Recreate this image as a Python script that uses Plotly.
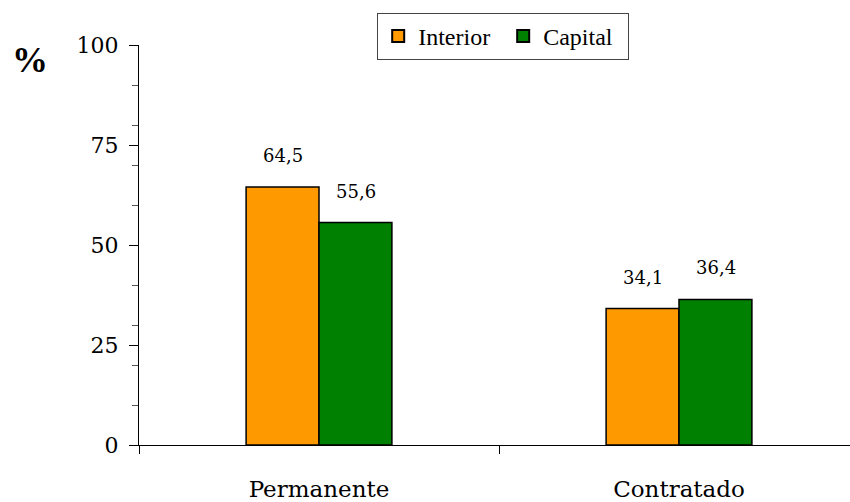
import plotly.graph_objects as go

categories = ["Permanente", "Contratado"]
interior = [64.5, 34.1]
capital = [55.6, 36.4]
interior_labels = ["64,5", "34,1"]
capital_labels = ["55,6", "36,4"]
y_ticks = [0, 25, 50, 75, 100]

SERIF = "Palatino Linotype, Book Antiqua, Palatino, DejaVu Serif, serif"
TIMES = "Liberation Serif, Times New Roman, serif"

fig = go.Figure()
fig.add_trace(go.Bar(name="Interior", x=categories, y=interior,
                     marker=dict(color="#FF9900", line=dict(color="black", width=1.5))))
fig.add_trace(go.Bar(name="Capital", x=categories, y=capital,
                     marker=dict(color="#008000", line=dict(color="black", width=1.5))))

annotations = []
for i, c in enumerate(categories):
    annotations.append(dict(x=c, y=interior[i], text=interior_labels[i], xref="x", yref="y",
                            showarrow=False, xshift=-36.5, yshift=19, yanchor="bottom",
                            font=dict(family=SERIF, size=18, color="black")))
    annotations.append(dict(x=c, y=capital[i], text=capital_labels[i], xref="x", yref="y",
                            showarrow=False, xshift=36.5, yshift=19, yanchor="bottom",
                            font=dict(family=SERIF, size=18, color="black")))
annotations.append(dict(x=-0.153, y=0.9625, xref="paper", yref="paper", text="<b>%</b>",
                        xanchor="center", yanchor="middle",
                        showarrow=False, font=dict(family=TIMES, size=36, color="black")))

fig.update_layout(
    width=850, height=502,
    margin=dict(l=139, r=0, t=45, b=57),
    paper_bgcolor="white", plot_bgcolor="white",
    barmode="group", bargap=0.595, bargroupgap=0,
    showlegend=True,
    legend=dict(orientation="h", x=0.335, y=1.08, xanchor="left", yanchor="top",
                bordercolor="#444444", borderwidth=1, bgcolor="white",
                font=dict(family=TIMES, size=24, color="black"),
                itemsizing="constant", itemwidth=30, tracegroupgap=0,
                entrywidth=80, entrywidthmode="pixels"),
    annotations=annotations,
    xaxis=dict(range=[-0.5, 1.475], showline=True, linecolor="black", linewidth=1,
               ticks="outside", tickson="boundaries", ticklen=8, tickcolor="black",
               showgrid=False, zeroline=False, ticklabelstandoff=23,
               tickfont=dict(family=SERIF, size=23, color="black")),
    yaxis=dict(range=[0, 100], tickvals=y_ticks, showline=True, linecolor="black",
               linewidth=1, ticks="outside", ticklen=9, tickcolor="black",
               showgrid=False, zeroline=False, ticklabelstandoff=6,
               tickfont=dict(family=SERIF, size=22, color="black"),
               minor=dict(tickvals=[10, 20, 30, 40, 60, 70, 80, 90], ticks="outside",
                          ticklen=6, tickcolor="#555555", showgrid=False)),
)

fig.write_html("out.html")
